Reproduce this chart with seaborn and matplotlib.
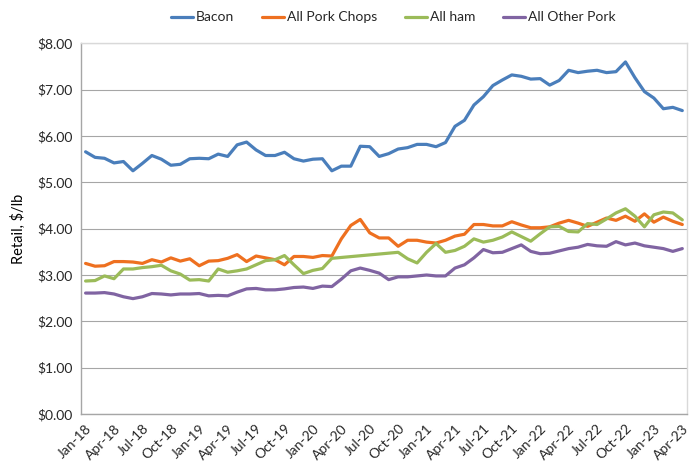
import numpy as np
import pandas as pd
import matplotlib
matplotlib.use('Agg')
import matplotlib.pyplot as plt
import seaborn as sns

# Monthly retail prices, Jan-18 .. Apr-23 ($/lb)
months = pd.date_range('2018-01-01', periods=64, freq='MS').strftime('%b-%y').tolist()

bacon = [5.66, 5.54, 5.52, 5.42, 5.45, 5.25, 5.41, 5.58, 5.50, 5.37, 5.39, 5.51,
         5.52, 5.51, 5.61, 5.56, 5.81, 5.87, 5.70, 5.58, 5.58, 5.65, 5.51, 5.46,
         5.50, 5.51, 5.25, 5.35, 5.35, 5.78, 5.77, 5.56, 5.62, 5.72, 5.75, 5.82,
         5.82, 5.77, 5.86, 6.21, 6.34, 6.67, 6.85, 7.09, 7.21, 7.32, 7.29, 7.23,
         7.24, 7.10, 7.20, 7.42, 7.37, 7.40, 7.42, 7.37, 7.39, 7.60, 7.26, 6.96,
         6.82, 6.59, 6.62, 6.55]

pork_chops = [3.25, 3.19, 3.20, 3.29, 3.29, 3.28, 3.25, 3.33, 3.28, 3.37, 3.30, 3.35,
              3.20, 3.30, 3.31, 3.36, 3.44, 3.29, 3.41, 3.37, 3.33, 3.22, 3.40, 3.40,
              3.38, 3.42, 3.41, 3.78, 4.07, 4.20, 3.91, 3.80, 3.80, 3.62, 3.75, 3.75,
              3.71, 3.69, 3.75, 3.84, 3.88, 4.09, 4.09, 4.06, 4.06, 4.15, 4.08, 4.02,
              4.02, 4.04, 4.12, 4.18, 4.12, 4.05, 4.14, 4.23, 4.18, 4.27, 4.16, 4.32,
              4.14, 4.25, 4.16, 4.09]

# ham has no values for mid-2020, the line just joins across the gap
ham = [2.87, 2.88, 2.98, 2.92, 3.13, 3.13, 3.16, 3.18, 3.21, 3.09, 3.02, 2.89,
       2.90, 2.87, 3.13, 3.06, 3.09, 3.13, 3.22, 3.31, 3.33, 3.42, 3.22, 3.03,
       3.10, 3.14, 3.36, np.nan, np.nan, np.nan, np.nan, np.nan, np.nan, 3.49, 3.35, 3.26,
       3.49, 3.68, 3.49, 3.53, 3.62, 3.78, 3.71, 3.75, 3.82, 3.93, 3.83, 3.73,
       3.89, 4.04, 4.05, 3.94, 3.93, 4.11, 4.09, 4.21, 4.34, 4.43, 4.27, 4.04,
       4.30, 4.36, 4.34, 4.19]

other_pork = [2.61, 2.61, 2.62, 2.59, 2.53, 2.49, 2.53, 2.60, 2.59, 2.57, 2.59, 2.59,
              2.60, 2.55, 2.56, 2.55, 2.63, 2.70, 2.71, 2.68, 2.68, 2.70, 2.73, 2.74,
              2.71, 2.76, 2.75, 2.91, 3.09, 3.15, 3.10, 3.04, 2.90, 2.96, 2.96, 2.98,
              3.00, 2.98, 2.98, 3.15, 3.22, 3.37, 3.55, 3.48, 3.49, 3.57, 3.65, 3.51,
              3.46, 3.47, 3.52, 3.57, 3.60, 3.66, 3.63, 3.62, 3.72, 3.65, 3.69, 3.63,
              3.60, 3.57, 3.51, 3.57]

series_names = ['Bacon', 'All Pork Chops', 'All ham', 'All Other Pork']
colors = ['#4A7EBB', '#EE7020', '#9BBB59', '#8064A2']

x = np.arange(len(months))
df = pd.DataFrame({'idx': x, 'Bacon': bacon, 'All Pork Chops': pork_chops,
                   'All ham': ham, 'All Other Pork': other_pork})
long_df = df.melt(id_vars='idx', var_name='Series', value_name='Price')

sns.set_style('white')
plt.rcParams['font.family'] = ['Lato', 'DejaVu Sans']

fig = plt.figure(figsize=(6.97, 4.72), dpi=100)
ax = fig.add_axes([0.116, 0.123, 0.8697, 0.785])

sns.lineplot(data=long_df, x='idx', y='Price', hue='Series', hue_order=series_names,
             palette=colors, linewidth=2.3, ax=ax, legend=True)

ax.set_xlim(-0.5, len(months) - 0.5)
ax.set_ylim(0, 8)
ax.set_yticks(np.arange(0, 9, 1))
ax.set_yticklabels(['\\$%.2f' % v for v in np.arange(0, 9, 1)], fontsize=10, color='#262626')
ax.set_xticks(x[::3])
ax.set_xticklabels(months[::3], rotation=45, ha='right', rotation_mode='anchor',
                   fontsize=10, color='#262626')
ax.tick_params(axis='both', length=0, pad=6)
ax.set_xlabel('')
ax.set_ylabel('Retail, \\$/lb', fontsize=10.5, color='#000000', labelpad=8)

ax.grid(axis='y', color='#A6A6A6', linewidth=0.8)
ax.set_axisbelow(True)
for side in ['top', 'right']:
    ax.spines[side].set_color('#D9D9D9')
    ax.spines[side].set_linewidth(1.0)
for side in ['left', 'bottom']:
    ax.spines[side].set_color('#A6A6A6')
    ax.spines[side].set_linewidth(1.0)

handles, labels = ax.get_legend_handles_labels()
ax.legend(handles, labels, loc='center', bbox_to_anchor=(0.515, 1.07), ncol=4,
          frameon=False, fontsize=10, handlelength=1.6, handletextpad=0.2,
          columnspacing=2.0, labelcolor='#262626')

fig.savefig('out.png', dpi=100)
